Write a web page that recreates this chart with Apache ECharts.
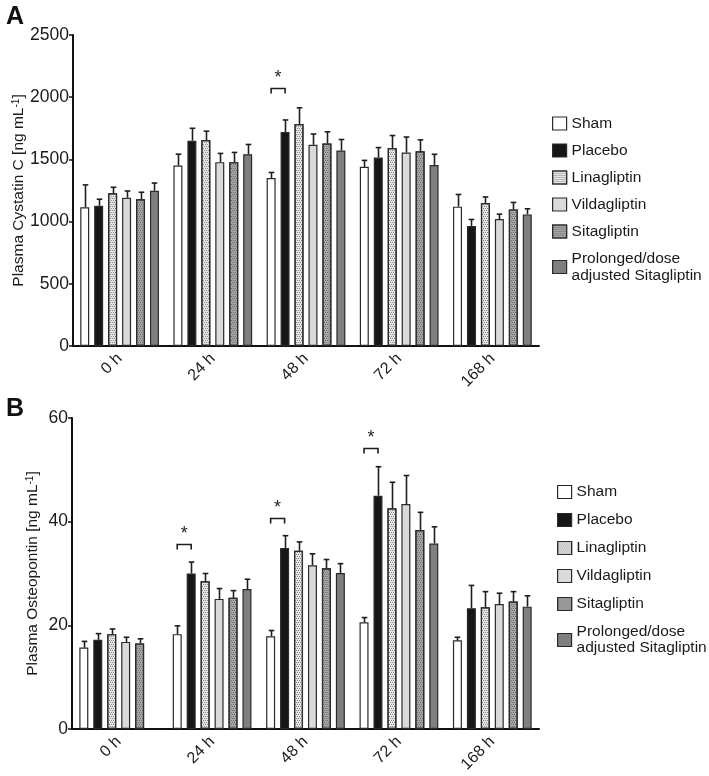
<!DOCTYPE html>
<html>
<head>
<meta charset="utf-8">
<script src="https://cdn.jsdelivr.net/npm/echarts@6/dist/echarts.min.js"></script>
<style>html,body{margin:0;padding:0;background:#fff;}#c{width:709px;height:776px;}</style>
</head>
<body>
<div id="c"></div>
<script>
var categories = ['0 h', '24 h', '48 h', '72 h', '168 h'];
var groups = ['Sham', 'Placebo', 'Linagliptin', 'Vildagliptin', 'Sitagliptin', 'Prolonged/dose\nadjusted Sitagliptin'];

// Panel A: Plasma Cystatin C (mean, upper SEM)
var cysSham      = [1115, 1450, 1350, 1440, 1120];
var cysPlacebo   = [1128, 1650, 1720, 1515, 965];
var cysLina      = [1228, 1655, 1785, 1592, 1150];
var cysVilda     = [1192, 1478, 1618, 1555, 1020];
var cysSita      = [1180, 1478, 1628, 1565, 1098];
var cysProl      = [1248, 1542, 1572, 1455, 1058];
var cysShamErr   = [180, 92, 45, 52, 98];
var cysPlaceboErr= [52, 100, 97, 80, 52];
var cysLinaErr   = [48, 72, 130, 100, 48];
var cysVildaErr  = [54, 70, 86, 125, 40];
var cysSitaErr   = [56, 78, 94, 92, 56];
var cysProlErr   = [62, 78, 88, 86, 45];
var cysSig       = [[2, 2070]];
var cysTicks     = [0, 500, 1000, 1500, 2000, 2500];

// Panel B: Plasma Osteopontin (mean, upper SEM)
var opnSham      = [15.7, 18.3, 17.9, 20.6, 17.1];
var opnPlacebo   = [17.2, 30.0, 34.9, 45.0, 23.3];
var opnLina      = [18.3, 28.5, 34.4, 42.6, 23.5];
var opnVilda     = [16.8, 25.1, 31.6, 43.4, 24.1];
var opnSita      = [16.5, 25.3, 31.0, 38.4, 24.6];
var opnProl      = [null, 27.0, 30.1, 35.8, 23.6];
var opnShamErr   = [1.2, 1.6, 1.1, 0.9, 0.6];
var opnPlaceboErr= [1.2, 2.2, 2.4, 5.6, 4.4];
var opnLinaErr   = [1.0, 1.5, 1.7, 5.0, 3.0];
var opnVildaErr  = [0.9, 2.0, 2.2, 5.5, 2.1];
var opnSitaErr   = [0.9, 1.4, 1.7, 3.4, 1.9];
var opnProlErr   = [null, 1.9, 1.8, 3.2, 2.1];
var opnSig       = [[1, 35.7], [2, 40.7], [3, 54.3]];
var opnTicks     = [0, 20, 40, 60];

var BW = 9, GAP = 0.55, STEP = BW * (1 + GAP), CAP = 2.8;
var FONT = 'Liberation Sans, Arial, sans-serif';
var TXT = '#1a1a1a';

var styles = [
  {color: '#ffffff'},
  {color: '#161616'},
  {color: '#e4e4e4', decal: {symbol: 'rect', symbolSize: 1, dashArrayX: [[1, 1], [0, 1, 1, 0]], dashArrayY: [1, 1], color: '#8c8c8c'}},
  {color: '#dadada'},
  {color: '#a6a6a6', decal: {symbol: 'rect', symbolSize: 1, dashArrayX: [[1, 1], [0, 1, 1, 0]], dashArrayY: [1, 1], color: '#6e6e6e'}},
  {color: '#7f7f7f'}
];

function errData(means, errs) {
  var out = [];
  for (var s = 0; s < means.length; s++) {
    for (var c = 0; c < means[s].length; c++) {
      if (means[s][c] != null && errs[s][c] != null) out.push([c, means[s][c], errs[s][c], s]);
    }
  }
  return out;
}

function errRender(params, api) {
  var c = api.value(0), m = api.value(1), e = api.value(2), s = api.value(3);
  var b = api.coord([c, m]), t = api.coord([c, m + e]);
  var x = Math.round(b[0] + (s - 2.5) * STEP) + 0.5;
  var st = {stroke: '#1e1e1e', lineWidth: 1.6};
  return {type: 'group', children: [
    {type: 'line', shape: {x1: x, y1: b[1], x2: x, y2: t[1]}, style: st},
    {type: 'line', shape: {x1: x - CAP, y1: t[1], x2: x + CAP, y2: t[1]}, style: st}
  ]};
}

function sigRender(params, api) {
  var c = api.value(0), v = api.value(1);
  var p = api.coord([c, v]);
  var x1 = p[0] - 2.5 * STEP, x2 = p[0] - 1.5 * STEP, y = Math.round(p[1]) + 0.5;
  var st = {stroke: '#1e1e1e', lineWidth: 1.6, fill: null};
  return {type: 'group', children: [
    {type: 'polyline', shape: {points: [[x1, y + 5], [x1, y], [x2, y], [x2, y + 5]]}, style: st},
    {type: 'text', style: {text: '*', x: (x1 + x2) / 2, y: y - 1, textAlign: 'center', textVerticalAlign: 'bottom', fontSize: 18, fontFamily: FONT, fill: '#1e1e1e'}}
  ]};
}

var cysMeans = [cysSham, cysPlacebo, cysLina, cysVilda, cysSita, cysProl];
var cysErrs = [cysShamErr, cysPlaceboErr, cysLinaErr, cysVildaErr, cysSitaErr, cysProlErr];
var opnMeans = [opnSham, opnPlacebo, opnLina, opnVilda, opnSita, opnProl];
var opnErrs = [opnShamErr, opnPlaceboErr, opnLinaErr, opnVildaErr, opnSitaErr, opnProlErr];

var series = [];
function addBars(means, axis) {
  for (var s = 0; s < groups.length; s++) {
    series.push({
      type: 'bar', name: groups[s], xAxisIndex: axis, yAxisIndex: axis,
      data: means[s].map(function (v) { return v == null ? '-' : v; }),
      barWidth: BW, barGap: (GAP * 100) + '%',
      itemStyle: Object.assign({borderColor: '#2a2a2a', borderWidth: 1.2}, styles[s]),
      emphasis: {disabled: true}, silent: true, z: 2
    });
  }
}
addBars(cysMeans, 0);
addBars(opnMeans, 1);
series.push({type: 'custom', xAxisIndex: 0, yAxisIndex: 0, renderItem: errRender, data: errData(cysMeans, cysErrs), z: 5, silent: true});
series.push({type: 'custom', xAxisIndex: 1, yAxisIndex: 1, renderItem: errRender, data: errData(opnMeans, opnErrs), z: 5, silent: true});
series.push({type: 'custom', xAxisIndex: 0, yAxisIndex: 0, renderItem: sigRender, data: cysSig, z: 5, silent: true});
series.push({type: 'custom', xAxisIndex: 1, yAxisIndex: 1, renderItem: sigRender, data: opnSig, z: 5, silent: true});

function xAx(gi) {
  return {
    type: 'category', gridIndex: gi, data: categories,
    axisLine: {lineStyle: {color: '#111', width: 2}},
    axisTick: {alignWithLabel: true, length: 4, lineStyle: {color: '#111', width: 2}},
    axisLabel: {rotate: 45, fontSize: 16, color: TXT, fontFamily: FONT, margin: 10}
  };
}
function yAx(gi, ticks, name, gap) {
  return {
    type: 'value', gridIndex: gi, min: ticks[0], max: ticks[ticks.length - 1], interval: ticks[1] - ticks[0],
    name: name, nameLocation: 'middle', nameGap: gap, nameRotate: 90, nameMoveOverlap: false,
    nameTextStyle: {fontSize: 15.5, color: TXT, fontFamily: FONT, rich: {a: {fontSize: 15.5, color: TXT, fontFamily: FONT}, s: {fontSize: 10, color: TXT, fontFamily: FONT, verticalAlign: 'top', padding: [0, 0, 6, 0]}}},
    axisLine: {show: true, lineStyle: {color: '#111', width: 2}},
    axisTick: {show: true, length: 4, lineStyle: {color: '#111', width: 1.5}},
    axisLabel: {fontSize: 17.5, color: TXT, fontFamily: FONT, margin: 4, formatter: function (v) { return String(v); }},
    splitLine: {show: false}
  };
}

var option = {
  animation: false,
  backgroundColor: '#ffffff',
  title: [
    {text: 'A', left: 1, top: 0, textStyle: {fontSize: 25, fontWeight: 'bold', color: '#111', fontFamily: FONT}},
    {text: 'B', left: 1, top: 392, textStyle: {fontSize: 25, fontWeight: 'bold', color: '#111', fontFamily: FONT}}
  ],
  grid: [
    {left: 73, right: 170, top: 35, bottom: 430},
    {left: 72, right: 170, top: 418, bottom: 47}
  ],
  xAxis: [xAx(0), xAx(1)],
  yAxis: [
    yAx(0, cysTicks, '{a|Plasma Cystatin C [ng mL}{s|-1}{a|]}', 46),
    yAx(1, opnTicks, '{a|Plasma Osteopontin [ng mL}{s|-1}{a|]}', 31)
  ],
  legend: [
    {orient: 'vertical', left: 552, top: 115, padding: 0, icon: 'rect', itemWidth: 14, itemHeight: 13, itemGap: 10, selectedMode: false,
     data: groups, itemStyle: {borderColor: '#2a2a2a', borderWidth: 1.2},
     textStyle: {fontSize: 15.5, color: TXT, fontFamily: FONT, lineHeight: 17}},
    {orient: 'vertical', left: 557, top: 484, padding: 0, icon: 'rect', itemWidth: 14, itemHeight: 13, itemGap: 12, selectedMode: false,
     data: groups, itemStyle: {borderColor: '#2a2a2a', borderWidth: 1.2},
     textStyle: {fontSize: 15.5, color: TXT, fontFamily: FONT, lineHeight: 16}}
  ],
  series: series
};

var chart = echarts.init(document.getElementById('c'), null, {renderer: 'canvas'});
chart.setOption(option);
</script>
</body>
</html>
